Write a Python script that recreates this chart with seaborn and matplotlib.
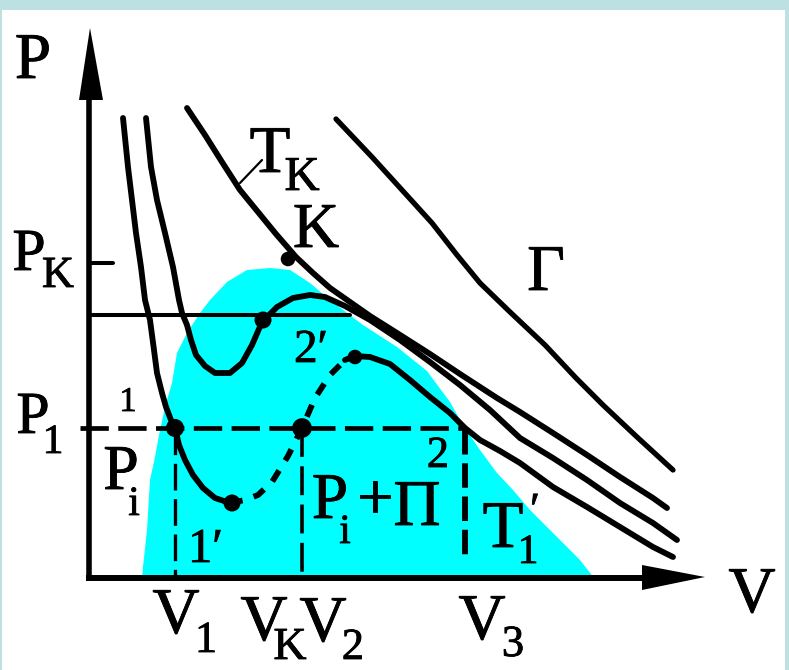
import matplotlib
matplotlib.use("Agg")
import matplotlib.pyplot as plt
import matplotlib.patheffects as pe
import seaborn as sns

sns.set_theme(style="white")
plt.rcParams['font.family'] = ['Liberation Serif', 'DejaVu Serif']

# ---- isotherm T1' : left stable branch, metastable liquid down to 1'
t1_left_v = [0.70, 0.80, 0.88, 0.96, 1.06, 1.14, 1.24, 1.32, 1.38, 1.48, 1.56, 1.66, 1.74,
             1.82, 1.94, 2.10, 2.30, 2.54, 2.84]
t1_left_p = [9.20, 8.22, 7.56, 6.90, 6.22, 5.56, 5.16, 4.56, 4.10, 3.70, 3.42, 3.16, 3.00,
             2.66, 2.36, 2.06, 1.80, 1.60, 1.50]
# unstable part of the loop (dashed)
t1_mid_v = [2.84, 3.14, 3.40, 3.68, 4.00, 4.28, 4.54, 4.84, 5.14]
t1_mid_p = [1.50, 1.56, 1.66, 1.92, 2.44, 3.00, 3.60, 4.06, 4.36]
# metastable vapour and gas branch
t1_right_v = [5.14, 5.34, 5.64, 6.04, 6.44, 6.84, 7.24, 7.54, 7.84, 8.24, 8.64, 9.30, 9.98,
              10.64, 11.30, 11.70]
t1_right_p = [4.36, 4.44, 4.42, 4.28, 3.96, 3.62, 3.30, 3.00, 2.76, 2.54, 2.30, 1.82, 1.42,
              1.02, 0.62, 0.42]

# ---- higher sub-critical isotherm
t2_v = [1.16, 1.26, 1.38, 1.54, 1.70, 1.82, 1.88, 1.98, 2.06, 2.16, 2.34, 2.54, 2.84, 3.08,
        3.28, 3.48, 3.78, 4.10, 4.44, 4.74, 5.14, 5.64, 6.24, 6.84, 7.44, 8.04, 8.64, 9.30,
        9.98, 10.64, 11.30, 11.78]
t2_p = [9.20, 8.22, 7.56, 6.90, 6.22, 5.56, 5.30, 5.06, 4.76, 4.46, 4.24, 4.10, 4.10, 4.30,
        4.66, 5.12, 5.42, 5.60, 5.66, 5.62, 5.44, 5.16, 4.76, 4.32, 3.86, 3.36, 2.80, 2.40,
        1.96, 1.50, 1.10, 0.76]

# ---- critical isotherm T_K
tk_v = [1.98, 2.34, 2.68, 3.04, 3.40, 3.76, 4.16, 4.50, 4.84, 5.24, 5.64, 6.18, 6.84, 7.44,
        8.18, 8.64, 9.30, 9.98, 10.64, 11.30, 11.58]
tk_p = [9.40, 8.86, 8.32, 7.76, 7.32, 6.88, 6.42, 6.10, 5.80, 5.52, 5.24, 4.90, 4.48, 4.08,
        3.60, 3.32, 2.90, 2.46, 2.02, 1.60, 1.40]

# ---- supercritical isotherm (gas, Γ)
tg_v = [4.96, 5.68, 6.28, 6.88, 7.38, 7.84, 8.44, 9.14, 9.76, 10.30, 10.98, 11.70]
tg_p = [9.18, 8.42, 7.76, 7.10, 6.46, 5.90, 5.32, 4.66, 4.00, 3.46, 2.82, 2.16]

# ---- two-phase dome (binodal)
dome_v = [1.08, 1.10, 1.18, 1.24, 1.34, 1.42, 1.54, 1.68, 1.78, 1.98, 2.24, 2.44, 2.78, 3.18,
          3.64, 4.04, 4.44, 4.84, 5.50, 6.18, 6.78, 7.24, 7.50, 7.84, 8.18, 8.50, 8.84, 9.18,
          9.50, 9.84, 10.12]
dome_p = [0.00, 0.22, 0.96, 1.96, 2.42, 2.86, 3.42, 3.90, 4.50, 4.90, 5.30, 5.56, 5.92, 6.16,
          6.20, 6.16, 5.90, 5.56, 5.06, 4.62, 4.14, 3.52, 3.06, 2.56, 2.10, 1.76, 1.36, 1.02,
          0.70, 0.36, 0.00]

# ---- marked states
dots_v = [1.74, 4.28, 3.50, 2.88, 5.34, 4.00]
dots_p = [3.00, 3.00, 5.16, 1.50, 4.42, 6.38]
dots_size = [170, 200, 150, 150, 110, 110]

# ---- characteristic levels
p_k = 6.30
p_1 = 3.00
p_flat = 5.26
v_1, v_2, v_3 = 1.74, 4.28, 7.54

INK = "black"
CYAN = "#00ffff"
FRAME = "#bde0e3"

fig = plt.figure(figsize=(7.89, 6.70), dpi=100, facecolor=FRAME)
ax = fig.add_axes([2 / 789, 0, 783 / 789, 660 / 670])
ax.set_facecolor("white")
ax.set_xlim(-1.72, 13.94)
ax.set_ylim(-1.84, 11.36)
ax.set_xticks([])
ax.set_yticks([])
for s in ax.spines.values():
    s.set_visible(False)

# two-phase region
ax.fill(dome_v, dome_p, color=CYAN, lw=0, zorder=0)

# coordinate axes with arrow heads
ax.plot([0.02, 0.02], [-0.06, 9.6], color=INK, lw=4, solid_capstyle="butt", zorder=3)
ax.plot([-0.04, 11.1], [0.0, 0.0], color=INK, lw=4.3, solid_capstyle="butt", zorder=3)
ax.fill([-0.18, 0.04, 0.30], [9.56, 11.00, 9.56], color=INK, lw=0, zorder=3)
ax.fill([11.08, 12.34, 11.08], [0.26, 0.02, -0.24], color=INK, lw=0, zorder=3)

# isotherms
lw = 4.2
sns.lineplot(x=t1_left_v, y=t1_left_p, sort=False, estimator=None, color=INK, lw=lw, ax=ax,
             zorder=4)
sns.lineplot(x=t1_mid_v, y=t1_mid_p, sort=False, estimator=None, color=INK, lw=lw, ax=ax,
             linestyle=(0, (2.2, 2.0)), zorder=4)
sns.lineplot(x=t1_right_v, y=t1_right_p, sort=False, estimator=None, color=INK, lw=lw, ax=ax,
             zorder=4)
sns.lineplot(x=t2_v, y=t2_p, sort=False, estimator=None, color=INK, lw=lw, ax=ax, zorder=4)
sns.lineplot(x=tk_v, y=tk_p, sort=False, estimator=None, color=INK, lw=lw, ax=ax, zorder=4)
sns.lineplot(x=tg_v, y=tg_p, sort=False, estimator=None, color=INK, lw=3.8, ax=ax, zorder=4)

# pressure levels
ax.plot([0.04, 0.50], [p_k, p_k], color=INK, lw=2.9, zorder=3)
ax.plot([0.04, 5.24], [p_flat, p_flat], color=INK, lw=2.9, zorder=3)
ax.plot([-0.16, 7.54], [p_1, p_1], color=INK, lw=3.4, linestyle=(0, (6.0, 2.0)), zorder=3)

# volume markers
ax.plot([v_1, v_1], [p_1, 0], color=INK, lw=2.4, linestyle=(0, (8.0, 2.6)), zorder=3)
ax.plot([v_2, v_2], [p_1, 0], color=INK, lw=2.6, linestyle=(0, (8.0, 2.6)), zorder=3)
ax.plot([v_3, v_3], [p_1 - 0.04, 0.42], color=INK, lw=4.2, linestyle=(0, (4.2, 1.5)), zorder=3)

sns.scatterplot(x=dots_v, y=dots_p, s=dots_size, color=INK, linewidth=0, ax=ax, zorder=5,
                legend=False)

# T_K leader
ax.plot([3.04, 3.48], [7.90, 8.36], color=INK, lw=1.6, zorder=4)

# ---- labels
heavy = [pe.withStroke(linewidth=0.6, foreground=INK)]


def lab(x, y, s, size, ha="center"):
    ax.text(x, y, s, fontsize=size, ha=ha, va="baseline", color=INK, zorder=6,
            path_effects=heavy)


lab(-1.10, 10.00, "P", 47)
lab(-1.18, 6.16, "P", 43)
lab(-0.60, 5.82, "K", 32)
lab(-1.10, 2.90, "P", 43)
lab(-0.70, 2.50, "1", 30)
lab(0.80, 3.34, "1", 25)
lab(0.66, 1.78, "P", 46)
lab(0.92, 1.26, "i", 30)
lab(2.00, 0.32, "1′", 35, ha="left")
lab(4.12, 4.32, "2′", 34, ha="left")
lab(7.00, 2.22, "2", 32)
lab(4.84, 1.20, "P", 47)
lab(5.14, 0.70, "i", 30)
lab(5.74, 1.20, "+", 47)
lab(6.58, 1.06, "Π", 47)
lab(3.64, 8.12, "T", 48)
lab(4.28, 7.76, "K", 35)
lab(4.56, 6.62, "K", 46)
lab(9.16, 5.76, "Γ", 47)
lab(8.30, 0.62, "T", 48)
lab(8.80, 0.30, "1", 30)
lab(8.94, 1.10, "′", 32)
lab(1.76, -1.10, "V", 47)
lab(2.36, -1.48, "1", 32)
lab(3.52, -1.24, "V", 47)
lab(4.04, -1.62, "K", 33)
lab(4.70, -1.26, "V", 47)
lab(5.30, -1.62, "2", 32)
lab(7.88, -1.22, "V", 47)
lab(8.50, -1.56, "3", 32)
lab(13.28, -0.68, "V", 47)

fig.savefig("out.png", dpi=100, facecolor=FRAME)
